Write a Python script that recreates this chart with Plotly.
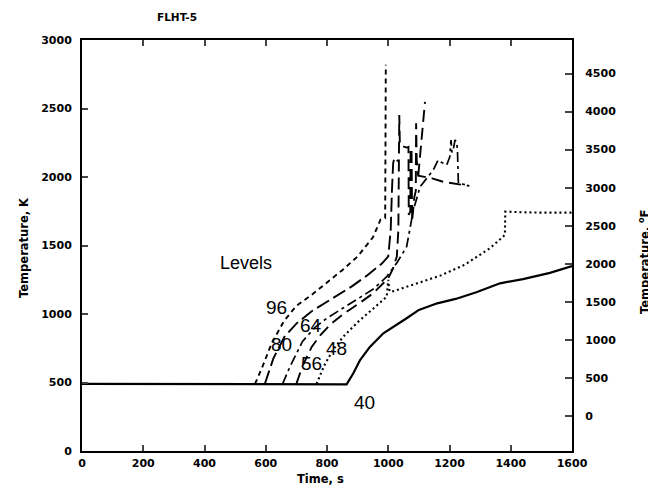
import plotly.graph_objects as go

# ---- data (time in s, temperature in K) ----
t96 = [565, 590, 620, 660, 700, 750, 800, 850, 900, 950, 965, 975, 985, 990, 992]
T96 = [490, 620, 790, 950, 1060, 1140, 1230, 1320, 1420, 1560, 1637, 1690, 1695, 1700, 2820]

t80 = [597, 625, 660, 700, 750, 800, 831, 880, 930, 980, 1000, 1008, 1012, 1016, 1020, 1028, 1032]
T80 = [490, 676, 830, 930, 1020, 1090, 1127, 1200, 1280, 1370, 1420, 1613, 1900, 2100, 2139, 2125, 2115]

t64 = [655, 680, 720, 760, 800, 850, 897, 950, 995, 1030, 1060, 1082, 1104, 1130, 1147, 1163, 1169,
       1191, 1201, 1205, 1208, 1212, 1218, 1223, 1226, 1229, 1256]
T64 = [490, 620, 800, 900, 970, 1040, 1102, 1180, 1272, 1380, 1491, 1759, 1929, 2002, 2051, 2124, 2112,
       2088, 2148, 2270, 2180, 2197, 2270, 2258, 2200, 1954, 1942]

t56 = [700, 720, 750, 780, 815, 860, 900, 950, 989, 1000, 1015, 1028, 1033, 1036, 1038, 1060, 1066,
       1067, 1072, 1073, 1076, 1078, 1085, 1090, 1091, 1093, 1098, 1143, 1180, 1220, 1265,
       None, 1098, 1110, 1120]
T56 = [490, 620, 760, 850, 932, 1010, 1070, 1150, 1236, 1260, 1330, 1420, 1613, 2452, 2233, 2215, 2220,
       1723, 1750, 2210, 2205, 1680, 1850, 1900, 2393, 2120, 2010, 1990, 1965, 1950, 1935,
       None, 2010, 2300, 2549]

t48 = [766, 790, 820, 853, 900, 950, 995, 1000, 1003, 1008, 1050, 1100, 1170, 1250, 1299, 1332,
       1375, 1381, 1382, 1400, 1450, 1500, 1600]
T48 = [490, 620, 740, 834, 940, 1040, 1126, 1250, 1180, 1160, 1190, 1230, 1280, 1360, 1430, 1480,
       1564, 1580, 1747, 1745, 1742, 1740, 1740]

t40 = [0, 100, 200, 300, 400, 500, 600, 700, 800, 864, 886, 908, 940, 984, 1060, 1100, 1160, 1220,
       1290, 1365, 1440, 1528, 1600]
T40 = [490, 490, 490, 490, 490, 490, 488, 486, 486, 487, 567, 664, 760, 859, 969, 1030, 1078, 1110,
       1160, 1224, 1255, 1300, 1350]

level_names = ["96", "80", "64", "56", "48", "40"]
label_t = [634, 650, 749, 748, 832, 921]
label_T = [1051, 774, 916, 639, 745, 354]

x_ticks = [0, 200, 400, 600, 800, 1000, 1200, 1400, 1600]
yK_ticks = [0, 500, 1000, 1500, 2000, 2500, 3000]
yF_ticks = [0, 500, 1000, 1500, 2000, 2500, 3000, 3500, 4000, 4500]

series = [
    (t96, T96, "5px,4px", 1.9),
    (t80, T80, "14px,5px", 1.9),
    (t64, T64, "10px,4px,3px,4px", 1.7),
    (t56, T56, "12px,6px", 1.9),
    (t48, T48, "2px,3px", 2.1),
    (t40, T40, "solid", 2.2),
]

fig = go.Figure()
for (tx, Ty, dash, w), name in zip(series, level_names):
    fig.add_trace(go.Scatter(x=tx, y=Ty, mode="lines", name=name,
                             line=dict(color="black", width=w, dash=dash),
                             connectgaps=False, showlegend=False))

# invisible trace for the right (deg F) axis
fig.add_trace(go.Scatter(x=[0], y=[0], yaxis="y2", mode="markers",
                         marker=dict(opacity=0), showlegend=False, hoverinfo="skip"))

tickfont = dict(family="DejaVu Sans", size=11, color="black", weight="bold")
titlefont = dict(family="DejaVu Sans", size=11.5, color="black", weight="bold")

for name, tx, Ty in zip(level_names, label_t, label_T):
    fig.add_annotation(x=tx, y=Ty, text=name, showarrow=False,
                       xanchor="center", yanchor="middle",
                       font=dict(family="Liberation Sans", size=19, color="black"))
fig.add_annotation(x=535, y=1372, text="Levels", showarrow=False,
                   xanchor="center", yanchor="middle",
                   font=dict(family="Liberation Sans", size=18, color="black"))

# the page adds an 8px body margin; plot area on screen: x 82..572 px, y 40..451 px
def px_x(p):
    return (p - 82) / 490

def px_y(p):
    return (451 - p) / 411

def paper_text(x, y, text, font, angle=0):
    fig.add_annotation(xref="paper", yref="paper", x=px_x(x), y=px_y(y), text=text,
                       textangle=angle, showarrow=False, xanchor="center", yanchor="middle",
                       font=font)

paper_text(177, 17, "FLHT-5", dict(family="DejaVu Sans", size=10.5, color="black", weight="bold"))
paper_text(320, 479, "Time, s", titlefont)
paper_text(24, 248, "Temperature, K", titlefont, -90)
paper_text(644, 262, "Temperature, <sup>o</sup>F", titlefont, -90)

K0 = -459.67
fig.update_layout(
    width=656, height=488,
    margin=dict(l=74, r=92, t=32, b=45, autoexpand=False),
    paper_bgcolor="white", plot_bgcolor="white",
    xaxis=dict(range=[0, 1600], tickvals=x_ticks, ticks="inside", ticklen=6, tickwidth=1.5,
               showline=True, linecolor="black", linewidth=2, mirror="ticks",
               showgrid=False, zeroline=False, tickfont=tickfont, ticklabelstandoff=1),
    yaxis=dict(range=[0, 3000], tickvals=yK_ticks, ticks="inside", ticklen=6, tickwidth=1.5,
               showline=True, linecolor="black", linewidth=2,
               showgrid=False, zeroline=False, tickfont=tickfont, ticklabelstandoff=6),
    yaxis2=dict(range=[K0, 3000 * 1.8 + K0], tickvals=yF_ticks, ticks="inside", ticklen=7,
                tickwidth=1.5, overlaying="y", side="right",
                showline=True, linecolor="black", linewidth=2,
                showgrid=False, zeroline=False, tickfont=tickfont, ticklabelstandoff=9),
)

fig.write_html("out.html")
